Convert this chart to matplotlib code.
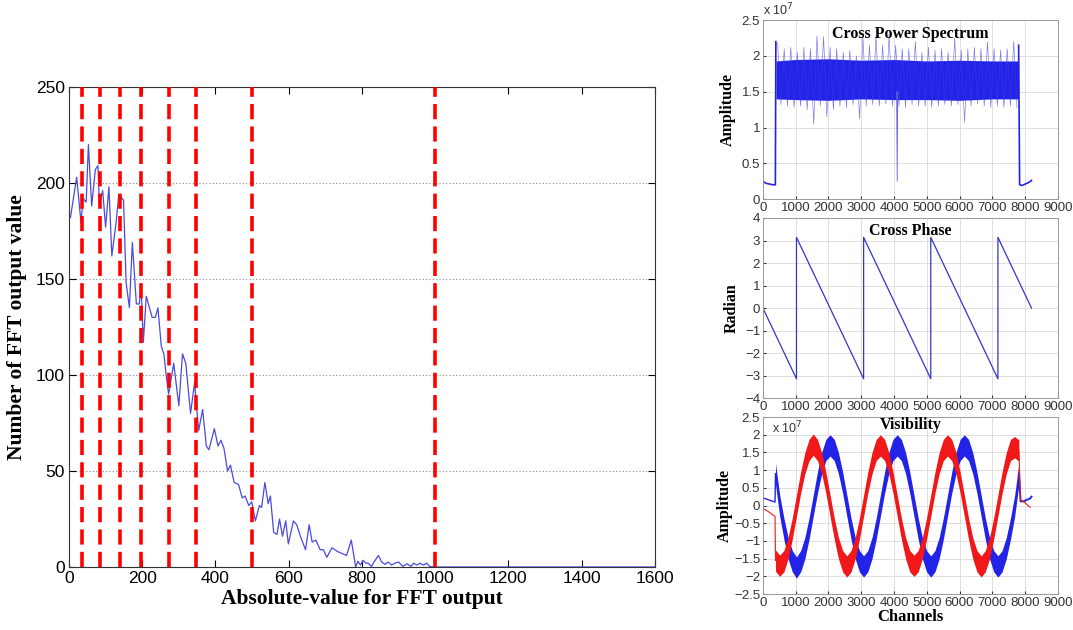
"""FFT output histogram with thresholds, plus cross spectrum / phase / visibility panels"""
import matplotlib.pyplot as plt

# ---- left panel: histogram of |FFT| output ----
fft_abs = [4, 21, 33, 38, 47, 53, 62, 72, 79, 83,
           92, 100, 109, 117, 129, 136, 149, 156, 165, 173,
           184, 192, 197, 203, 211, 227, 236, 243, 252, 259,
           266, 272, 286, 300, 310, 319, 332, 343, 354, 365,
           375, 382, 397, 407, 415, 423, 433, 441, 451, 463,
           473, 481, 491, 499, 509, 520, 526, 535, 544, 550,
           559, 568, 575, 583, 592, 599, 613, 622, 632, 646,
           656, 664, 674, 686, 695, 704, 718, 734, 746, 758,
           771, 783, 789, 796, 803, 811, 817, 826, 833, 845,
           854, 863, 872, 881, 890, 900, 912, 923, 934, 941,
           950, 959, 968, 977, 985, 1000, 1600]
fft_count = [182, 203, 179, 192, 190, 220, 188, 207, 209, 189,
             196, 177, 198, 162, 180, 194, 191, 148, 135, 169,
             137, 137, 146, 117, 141, 130, 130, 135, 115, 111,
             99, 90, 106, 84, 111, 106, 80, 96, 71, 82,
             63, 61, 72, 63, 66, 62, 50, 53, 44, 43,
             36, 37, 32, 34, 24, 32, 31, 44, 33, 37,
             18, 17, 25, 16, 24, 12, 24, 22, 16, 9,
             22, 13, 14, 9, 9, 5, 10, 8, 7, 6,
             14, 0, 3, 1, 3.5, 2, 2, 0.3, 2.6, 6,
             2.6, 1.4, 2.6, 1, 2, 2.6, 0.3, 1.7, 0.3, 2,
             1, 2, 1, 2, 0.3, 0, 0]
thresholds = [35, 85, 140, 196, 272, 348, 500, 1000]

# ---- cross power spectrum (units of 1e7) ----
cps_left_ch = [20, 100, 200, 300, 380, 395]
cps_left_val = [0.24, 0.22, 0.21, 0.2, 0.2, 2.2]
cps_right_ch = [7800, 7830, 7900, 8000, 8100, 8190]
cps_right_val = [2.15, 0.2, 0.19, 0.21, 0.23, 0.26]
cps_core_ch = [400, 1000, 2000, 3000, 4000, 5000, 6000, 7000, 7800]
cps_core_lo = [1.40, 1.39, 1.38, 1.40, 1.39, 1.39, 1.38, 1.40, 1.40]
cps_core_hi = [1.93, 1.95, 1.96, 1.94, 1.95, 1.93, 1.94, 1.93, 1.93]
cps_noise_ch = [450, 550, 650, 750, 850, 950, 1050, 1150, 1250, 1350,
                1450, 1550, 1650, 1750, 1850, 1950, 2050, 2150, 2250, 2350,
                2450, 2550, 2650, 2750, 2850, 2950, 3050, 3150, 3250, 3350,
                3450, 3550, 3650, 3750, 3850, 3950, 4050, 4150, 4250, 4350,
                4450, 4550, 4650, 4750, 4850, 4950, 5050, 5150, 5250, 5350,
                5450, 5550, 5650, 5750, 5850, 5950, 6050, 6150, 6250, 6350,
                6450, 6550, 6650, 6750, 6850, 6950, 7050, 7150, 7250, 7350,
                7450, 7550, 7650, 7750]
cps_noise_val = [2.18, 1.32, 2.10, 1.30, 2.12, 1.28, 2.05, 1.30, 2.12, 1.25,
                 2.10, 1.05, 2.28, 1.30, 2.27, 1.15, 2.12, 1.25, 2.10, 1.30,
                 2.05, 1.28, 2.08, 1.32, 2.00, 1.12, 2.28, 1.30, 2.15, 1.32,
                 2.28, 1.30, 2.15, 1.33, 2.30, 1.30, 2.15, 1.30, 2.10, 1.28,
                 2.10, 1.32, 2.20, 1.30, 2.05, 1.30, 2.12, 1.28, 2.08, 1.30,
                 2.10, 1.32, 2.05, 1.30, 2.25, 1.32, 2.08, 1.07, 2.10, 1.30,
                 2.12, 1.33, 2.10, 1.30, 2.20, 1.28, 2.10, 1.30, 2.08, 1.28,
                 2.10, 1.30, 2.20, 1.28]
cps_dip_ch = [4080, 4096, 4112]
cps_dip_val = [1.5, 0.25, 1.5]

# ---- cross phase (radian) ----
phase_ch = [0, 1024, 1024, 3072, 3072, 5120, 5120, 7168, 7168, 8192]
phase_val = [0, -3.14, 3.14, -3.14, 3.14, -3.14, 3.14, -3.14, 3.14, 0]

# ---- visibility (units of 1e7), band centre read every 128 channels ----
vis_ch = [384, 512, 640, 768, 896, 1024, 1152, 1280, 1408, 1536,
          1664, 1792, 1920, 2048, 2176, 2304, 2432, 2560, 2688, 2816,
          2944, 3072, 3200, 3328, 3456, 3584, 3712, 3840, 3968, 4096,
          4224, 4352, 4480, 4608, 4736, 4864, 4992, 5120, 5248, 5376,
          5504, 5632, 5760, 5888, 6016, 6144, 6272, 6400, 6528, 6656,
          6784, 6912, 7040, 7168, 7296, 7424, 7552, 7680, 7808]
vis_red = [-1.55, -1.7, -1.57, -1.2, -0.65, 0.0, 0.65, 1.2, 1.57, 1.72,
           1.57, 1.2, 0.65, 0.0, -0.65, -1.2, -1.57, -1.72, -1.57, -1.2,
           -0.65, 0.0, 0.65, 1.2, 1.57, 1.7, 1.57, 1.2, 0.65, 0.0,
           -0.65, -1.2, -1.57, -1.7, -1.57, -1.2, -0.65, 0.0, 0.65, 1.2,
           1.57, 1.7, 1.57, 1.2, 0.65, 0.0, -0.65, -1.2, -1.57, -1.72,
           -1.57, -1.2, -0.65, 0.0, 0.65, 1.2, 1.57, 1.65, 1.55]
vis_blue = [0.9, 0.0, -0.65, -1.2, -1.57, -1.75, -1.57, -1.2, -0.65, 0.0,
            0.65, 1.2, 1.57, 1.7, 1.57, 1.2, 0.65, 0.0, -0.65, -1.2,
            -1.57, -1.72, -1.57, -1.2, -0.65, 0.0, 0.65, 1.2, 1.57, 1.7,
            1.57, 1.2, 0.65, 0.0, -0.65, -1.2, -1.57, -1.72, -1.57, -1.2,
            -0.65, 0.0, 0.65, 1.2, 1.57, 1.7, 1.57, 1.2, 0.65, 0.0,
            -0.65, -1.2, -1.57, -1.72, -1.57, -1.2, -0.65, 0.0, 0.9]
vis_spread = 0.3
vis_red_left_ch = [0, 150, 300, 370, 384]
vis_red_left_val = [-0.08, -0.16, -0.26, -0.3, -1.55]
vis_blue_left_ch = [0, 150, 300, 370, 384]
vis_blue_left_val = [0.22, 0.17, 0.12, 0.1, 0.9]
vis_red_right_ch = [7808, 7860, 7950, 8050, 8150]
vis_red_right_val = [1.55, 0.15, 0.12, 0.03, -0.05]
vis_blue_right_ch = [7808, 7860, 7950, 8050, 8150, 8192]
vis_blue_right_val = [0.9, 0.12, 0.12, 0.16, 0.2, 0.25]

SANS = "Liberation Sans"
SERIF = "Liberation Serif"
BLUE = "#2323e8"
RED = "#f01818"
GRID = "#dedede"


def plot_histogram(ax):
    """Left panel: number of FFT outputs against their absolute value"""
    ax.plot(fft_abs, fft_count, color="#4a4ae0", lw=0.9, zorder=3)
    for xv in thresholds:
        ax.axvline(xv, color="red", lw=2.6, ls=(0, (4.2, 2.0)), zorder=4)
    ax.set_xlim(0, 1600)
    ax.set_ylim(0, 250)
    ax.set_xticks(range(0, 1601, 200))
    ax.set_yticks(range(0, 251, 50))
    ax.yaxis.grid(True, ls=(0, (1, 2)), color="#888888", lw=0.8)
    ax.tick_params(direction="in", top=True, right=True, length=5,
                   labelsize=12.5, pad=3)
    for lab in ax.get_xticklabels() + ax.get_yticklabels():
        lab.set_family(SANS)
    for sp in ax.spines.values():
        sp.set_color("#333333")
    ax.set_xlabel("Absolute-value for FFT output", family=SERIF,
                  fontweight="bold", fontsize=15.5, labelpad=2)
    ax.set_ylabel("Number of FFT output value", family=SERIF,
                  fontweight="bold", fontsize=15.5, labelpad=6)
    return ax


def matlab_style(ax, yticks, ylim):
    """Light grid and small grey ticks like the MATLAB panels"""
    ax.set_xlim(0, 9000)
    ax.set_xticks(range(0, 9001, 1000))
    ax.set_ylim(*ylim)
    ax.set_yticks(yticks)
    ax.grid(True, color=GRID, lw=0.7)
    ax.set_axisbelow(True)
    ax.tick_params(direction="in", length=2, labelsize=9.5, pad=2,
                   colors="#333333")
    for lab in ax.get_xticklabels() + ax.get_yticklabels():
        lab.set_family(SANS)
    for sp in ax.spines.values():
        sp.set_color("#999999")
        sp.set_linewidth(0.7)
    return ax


def bold_serif(ax, text, y=0.95):
    ax.text(0.5, y, text, transform=ax.transAxes, ha="center", va="top",
            family=SERIF, fontweight="bold", fontsize=11.5)


def plot_cross_power(ax):
    matlab_style(ax, [0, 0.5, 1, 1.5, 2, 2.5], (0, 2.5))
    ax.set_yticklabels(["0", "0.5", "1", "1.5", "2", "2.5"])
    ax.fill_between(cps_core_ch, cps_core_lo, cps_core_hi, color=BLUE, lw=0)
    ax.plot(cps_noise_ch, cps_noise_val, color="#3a3ae8", lw=0.45,
            alpha=0.7)
    ax.plot(cps_left_ch, cps_left_val, color=BLUE, lw=1.2)
    ax.plot(cps_right_ch, cps_right_val, color=BLUE, lw=1.2)
    ax.plot(cps_dip_ch, cps_dip_val, color="#6060e0", lw=0.6)
    bold_serif(ax, "Cross Power Spectrum", y=0.97)
    ax.text(0.0, 1.01, "x 10$^7$", transform=ax.transAxes, ha="left",
            va="bottom", family=SANS, fontsize=9, color="#333333")
    ax.set_ylabel("Amplitude", family=SERIF, fontweight="bold", fontsize=11.5)
    return ax


def plot_cross_phase(ax):
    matlab_style(ax, range(-4, 5), (-4, 4))
    ax.plot(phase_ch, phase_val, color="#3535c8", lw=0.9)
    bold_serif(ax, "Cross Phase", y=0.97)
    ax.set_ylabel("Radian", family=SERIF, fontweight="bold", fontsize=11.5)
    return ax


def plot_visibility(ax):
    matlab_style(ax, [-2.5, -2, -1.5, -1, -0.5, 0, 0.5, 1, 1.5, 2, 2.5],
                 (-2.5, 2.5))
    ax.set_yticklabels(["\u22122.5", "\u22122", "\u22121.5", "\u22121",
                        "\u22120.5", "0", "0.5", "1", "1.5", "2", "2.5"])
    blue_lo = [v - vis_spread for v in vis_blue]
    blue_hi = [v + vis_spread for v in vis_blue]
    red_lo = [v - vis_spread for v in vis_red]
    red_hi = [v + vis_spread for v in vis_red]
    ax.fill_between(vis_ch, blue_lo, blue_hi, color=BLUE, lw=0)
    ax.plot(vis_blue_left_ch, vis_blue_left_val, color=BLUE, lw=1.0)
    ax.plot(vis_blue_right_ch, vis_blue_right_val, color=BLUE, lw=1.4)
    ax.fill_between(vis_ch, red_lo, red_hi, color=RED, lw=0)
    ax.plot(vis_red_left_ch, vis_red_left_val, color=RED, lw=0.8)
    ax.plot(vis_red_right_ch, vis_red_right_val, color=RED, lw=0.8)
    bold_serif(ax, "Visibility", y=1.0)
    ax.text(0.03, 0.985, "x 10$^7$", transform=ax.transAxes, ha="left",
            va="top", family=SANS, fontsize=9, color="#333333")
    ax.set_ylabel("Amplitude", family=SERIF, fontweight="bold", fontsize=11.5,
                  labelpad=1)
    ax.set_xlabel("Channels", family=SERIF, fontweight="bold", fontsize=12,
                  labelpad=0)
    return ax


def main():
    fig = plt.figure(figsize=(10.73, 6.3), dpi=100)
    ax_hist = fig.add_axes([0.0643, 0.100, 0.546, 0.762])
    ax_cps = fig.add_axes([0.711, 0.684, 0.275, 0.284])
    ax_phase = fig.add_axes([0.711, 0.368, 0.275, 0.286])
    ax_vis = fig.add_axes([0.711, 0.057, 0.275, 0.281])

    plot_histogram(ax_hist)
    plot_cross_power(ax_cps)
    plot_cross_phase(ax_phase)
    plot_visibility(ax_vis)

    fig.savefig("out.png", dpi=100)


if __name__ == "__main__":
    main()
